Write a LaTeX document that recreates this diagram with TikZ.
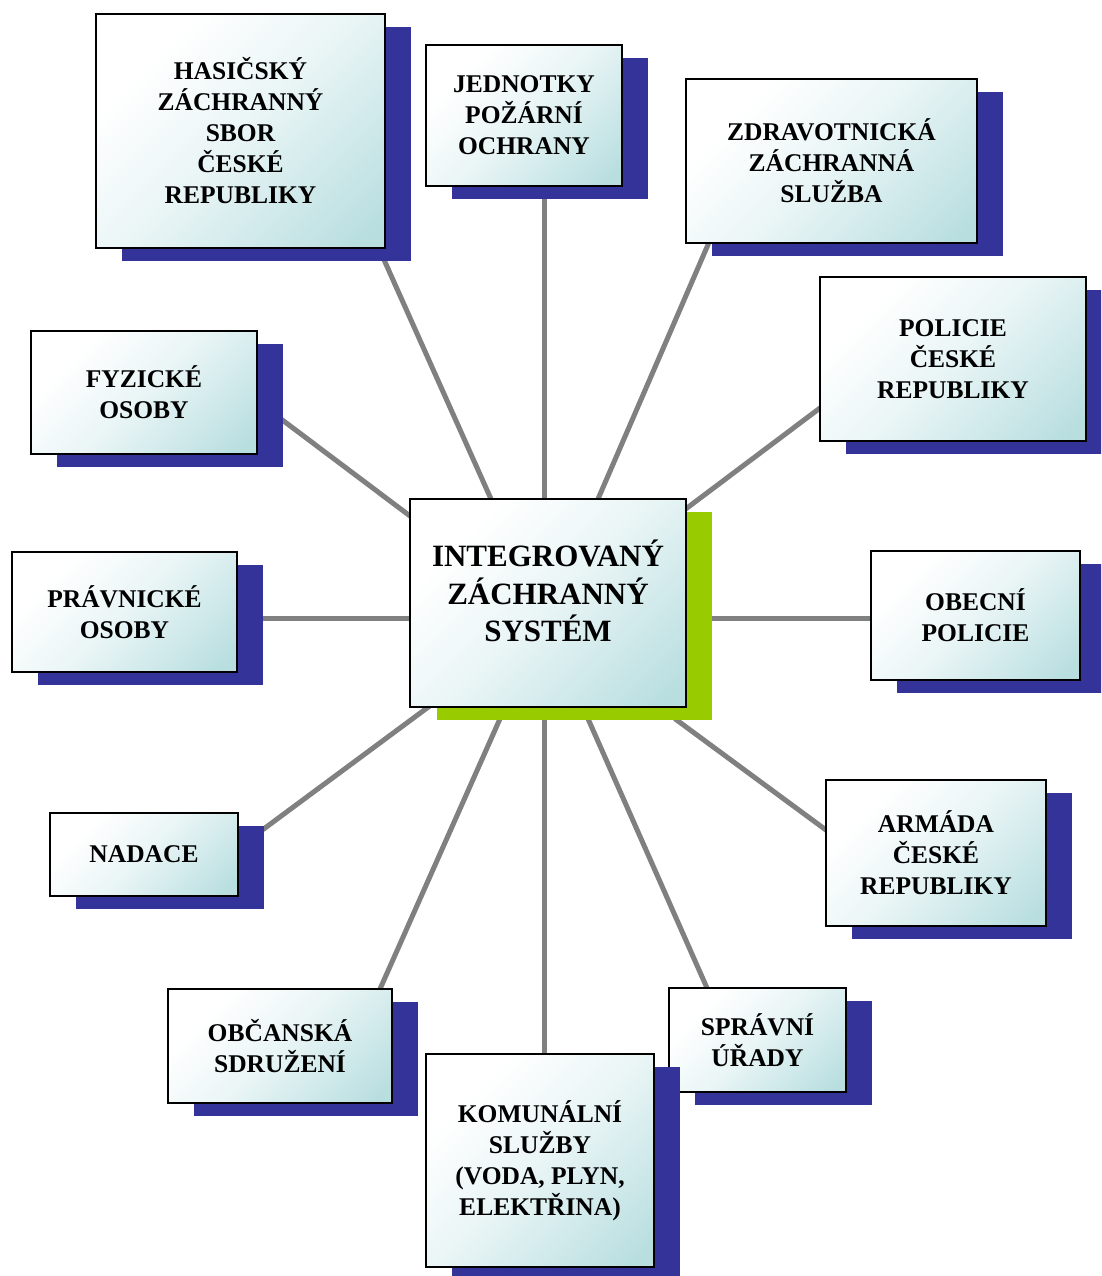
\documentclass[tikz,border=0pt]{standalone}
\usepackage{fontspec}
\setmainfont{Liberation Serif}
\definecolor{ibteal}{RGB}{184,222,224}
\definecolor{ibnavy}{RGB}{51,51,153}
\definecolor{ibgreen}{RGB}{153,204,0}
\definecolor{ibgray}{RGB}{128,128,128}
\pgfdeclareverticalshading{ibshade}{100bp}{color(0bp)=(ibteal); color(18bp)=(ibteal); color(50bp)=(ibteal!30!white); color(72bp)=(white); color(100bp)=(white)}
\tikzset{
  ibox/.style={draw=black, line width=1.6pt, shading=ibshade, shading angle=45,
    inner sep=0pt, align=center, font=\bfseries\fontsize{25.5}{31}\selectfont},
  cbox/.style={ibox, font=\bfseries\fontsize{31}{37.5}\selectfont},
  conn/.style={draw=ibgray, line width=5pt, shorten <=-4pt, shorten >=-4pt}
}
\newcommand\obox[7]{%
  \fill[#6] (#2+26,#3+13) rectangle (#4+26,#5+13);
  \node[ibox, minimum width={#4-#2}, minimum height={#5-#3}] (#1) at ({(#2+#4)/2},{(#3+#5)/2}) {#7};
}
\begin{document}
\begin{tikzpicture}[x=1pt,y=-1pt]
\clip (0,0) rectangle (1101,1276);
\fill[white] (0,0) rectangle (1101,1276);
% connector end points
\coordinate (cHZS) at (491,499); \coordinate (eHZS) at (385,262);
\coordinate (cJPO) at (544,499); \coordinate (eJPO) at (544,199);
\coordinate (cZZS) at (598,499); \coordinate (eZZS) at (707,247);
\coordinate (cPCR) at (687,508); \coordinate (ePCR) at (820,408);
\coordinate (cOP)  at (712,618); \coordinate (eOP)  at (871,618);
\coordinate (cACR) at (678,721); \coordinate (eACR) at (826,830);
\coordinate (cSU)  at (589,721); \coordinate (eSU)  at (707,988);
\coordinate (cKS)  at (544,721); \coordinate (eKS)  at (544,1054);
\coordinate (cOS)  at (499,721); \coordinate (eOS)  at (380,989);
\coordinate (cNAD) at (427,708); \coordinate (eNAD) at (265,828);
\coordinate (cPO)  at (410,618); \coordinate (ePO)  at (264,618);
\coordinate (cFO)  at (410,516); \coordinate (eFO)  at (285,422);
\foreach \n in {HZS,JPO,ZZS,PCR,OP,ACR,SU,KS,OS,NAD,PO,FO}
  \draw[conn] (c\n) -- (e\n);
% center
\fill[ibgreen] (437,512) rectangle (712,720);
\node[cbox, minimum width=276, minimum height=208] (izs) at (548,603) {INTEGROVANÝ\\ZÁCHRANNÝ\\SYSTÉM\\[-13.5pt]};
% outer boxes
\obox{hzs}{96}{14}{385}{248}{ibnavy}{HASIČSKÝ\\ZÁCHRANNÝ\\SBOR\\ČESKÉ\\REPUBLIKY}
\obox{jpo}{426}{45}{622}{186}{ibnavy}{JEDNOTKY\\POŽÁRNÍ\\OCHRANY}
\obox{zzs}{686}{79}{977}{243}{ibnavy}{ZDRAVOTNICKÁ\\ZÁCHRANNÁ\\SLUŽBA}
\obox{pcr}{820}{277}{1086}{441}{ibnavy}{POLICIE\\ČESKÉ\\REPUBLIKY}
\obox{op}{871}{551}{1080}{680}{ibnavy}{OBECNÍ\\POLICIE}
\obox{acr}{826}{780}{1046}{926}{ibnavy}{ARMÁDA\\ČESKÉ\\REPUBLIKY}
\obox{su}{669}{988}{846}{1092}{ibnavy}{SPRÁVNÍ\\ÚŘADY}
\obox{ks}{426}{1054}{654}{1267}{ibnavy}{KOMUNÁLNÍ\\SLUŽBY\\(VODA, PLYN,\\ELEKTŘINA)}
\obox{os}{168}{989}{392}{1103}{ibnavy}{OBČANSKÁ\\SDRUŽENÍ}
\obox{nad}{50}{813}{238}{896}{ibnavy}{NADACE}
\obox{po}{12}{552}{237}{672}{ibnavy}{PRÁVNICKÉ\\OSOBY}
\obox{fo}{31}{331}{257}{454}{ibnavy}{FYZICKÉ\\OSOBY}
\end{tikzpicture}
\end{document}
